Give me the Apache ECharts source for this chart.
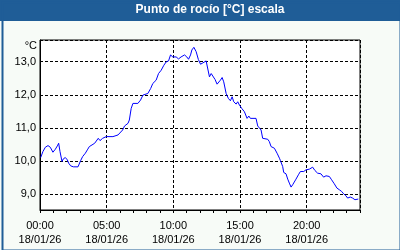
<!DOCTYPE html>
<html><head><meta charset="utf-8">
<script src="https://cdn.jsdelivr.net/npm/echarts@6/dist/echarts.min.js"></script>
<style>html,body{margin:0;padding:0;background:#f7fbf7}#c{width:400px;height:250px}</style>
</head><body><div id="c"></div>
<script>
const titleText = 'Punto de rocío [°C] escala';
const unitText = '°C';
const dateText = '18/01/26';
const xTickHours = [0, 5, 10, 15, 20];
const xTickTimes = ['00:00', '05:00', '10:00', '15:00', '20:00'];
const yTickValues = [9, 10, 11, 12, 13];
const hours = [0.05,0.22,0.4,0.6,0.77,0.97,1.15,1.3,1.4,1.5,1.65,1.75,1.9,2.05,2.15,2.3,2.5,2.85,2.95,3.05,3.2,3.4,3.55,3.7,3.9,4.1,4.25,4.37,4.5,4.7,4.97,5.47,5.85,5.97,6.2,6.34,6.6,6.7,6.84,6.97,7.34,7.54,7.72,8.09,8.3,8.46,8.71,8.89,9.09,9.29,9.46,9.64,9.79,9.89,9.96,10.21,10.39,10.58,10.84,11.01,11.14,11.29,11.39,11.54,11.71,11.88,12.04,12.21,12.46,12.53,12.71,12.84,12.98,13.13,13.28,13.41,13.53,13.66,13.78,13.96,14.13,14.28,14.41,14.53,14.71,14.83,14.96,15.13,15.33,15.53,15.66,15.78,16.2,16.33,16.46,16.58,16.7,16.83,17.08,17.2,17.33,17.58,17.78,17.96,18.03,18.2,18.28,18.45,18.58,18.7,18.83,18.95,19.2,19.38,19.53,19.78,19.95,20.07,20.2,20.32,20.45,20.62,20.82,21.07,21.27,21.45,21.7,21.87,22.07,22.27,22.45,22.62,22.77,22.94,23.07,23.27,23.44,23.62,23.77,23.87];
const dewPoint = [10.11,10.29,10.42,10.47,10.42,10.27,10.36,10.46,10.54,10.29,9.99,10.07,10.11,10.04,9.94,9.86,9.83,9.83,9.89,10.02,10.14,10.24,10.34,10.44,10.49,10.54,10.59,10.69,10.62,10.69,10.74,10.74,10.79,10.79,10.94,11.06,11.14,11.24,11.59,11.74,11.74,11.84,11.99,12.04,12.19,12.34,12.44,12.64,12.74,12.89,12.99,13.02,13.2,13.25,13.14,13.14,13.08,13.14,13.2,13.14,13.07,13.2,13.35,13.43,13.3,13.06,12.92,12.96,13.02,12.99,12.54,12.64,12.64,12.46,12.32,12.27,12.44,12.52,12.39,12.04,11.89,11.82,11.94,11.79,11.72,11.79,11.69,11.59,11.49,11.29,11.36,11.29,11.29,11.06,11.09,10.94,10.69,10.64,10.66,10.59,10.44,10.39,10.24,10.09,10.02,9.84,9.66,9.62,9.46,9.34,9.22,9.29,9.46,9.59,9.69,9.69,9.74,9.79,9.76,9.82,9.82,9.72,9.64,9.62,9.52,9.56,9.54,9.44,9.32,9.19,9.14,9.09,9.02,8.96,8.89,8.92,8.89,8.84,8.78,8.86];

const FONT = 'Liberation Sans, Arial, sans-serif';
const chart = echarts.init(document.getElementById('c'), null, {renderer: 'canvas'});
const data = hours.map((h, i) => [h, dewPoint[i]]);
chart.setOption({
  animation: false,
  backgroundColor: '#f7fbf7',
  graphic: [
    {type: 'rect', left: 0, top: 0, shape: {width: 400, height: 21}, style: {fill: '#1f5d97'}, silent: true},
    {type: 'rect', left: 0, top: 0, shape: {x: 1, y: 1, width: 398, height: 248}, style: {fill: 'none', stroke: '#1f5d97', lineWidth: 2}, silent: true},
    {type: 'text', x: 210, y: 10, style: {text: titleText, fill: '#fff', font: 'bold 12px ' + FONT, align: 'center', verticalAlign: 'middle'}},
    {type: 'text', x: 37, y: 46, style: {text: unitText, fill: '#000', font: '11px ' + FONT, align: 'right', verticalAlign: 'middle'}}
  ],
  grid: {left: 40, right: 40, top: 40, bottom: 40, show: true, backgroundColor: '#fff', borderColor: '#000', borderWidth: 1},
  xAxis: [
    {type: 'value', min: 0, max: 24, interval: 5, position: 'bottom',
     axisLine: {show: true, lineStyle: {color: '#000', width: 1}},
     axisTick: {show: false},
     splitLine: {show: true, lineStyle: {color: '#000', type: [3, 2], width: 1}},
     axisLabel: {show: true, margin: 9, color: '#000', fontFamily: FONT, fontSize: 11, lineHeight: 14,
       showMaxLabel: false,
       formatter: v => { const i = xTickHours.indexOf(v); return i < 0 ? '' : xTickTimes[i] + '\n' + dateText; }}},
    {type: 'value', min: 0, max: 24, interval: 1, position: 'bottom',
     axisLine: {show: false},
     axisTick: {show: true, length: 3, inside: false, lineStyle: {color: '#000'}},
     splitLine: {show: false}, axisLabel: {show: false}}
  ],
  yAxis: {type: 'value', min: 8.53, max: 13.65, splitNumber: 5,
    axisLine: {show: true, lineStyle: {color: '#000'}},
    axisTick: {show: false},
    splitLine: {show: true, lineStyle: {color: '#000', type: [3, 2], width: 1}},
    axisLabel: {color: '#000', fontFamily: FONT, fontSize: 11, margin: 4, showMinLabel: false, showMaxLabel: false,
      formatter: v => yTickValues.indexOf(v) < 0 ? '' : v.toFixed(1).replace('.', ',')}},
  series: [{type: 'line', data: data, xAxisIndex: 0, showSymbol: false, symbol: 'none',
    lineStyle: {color: '#0000ff', width: 1}, itemStyle: {color: '#0000ff'}}]
});
</script></body></html>
